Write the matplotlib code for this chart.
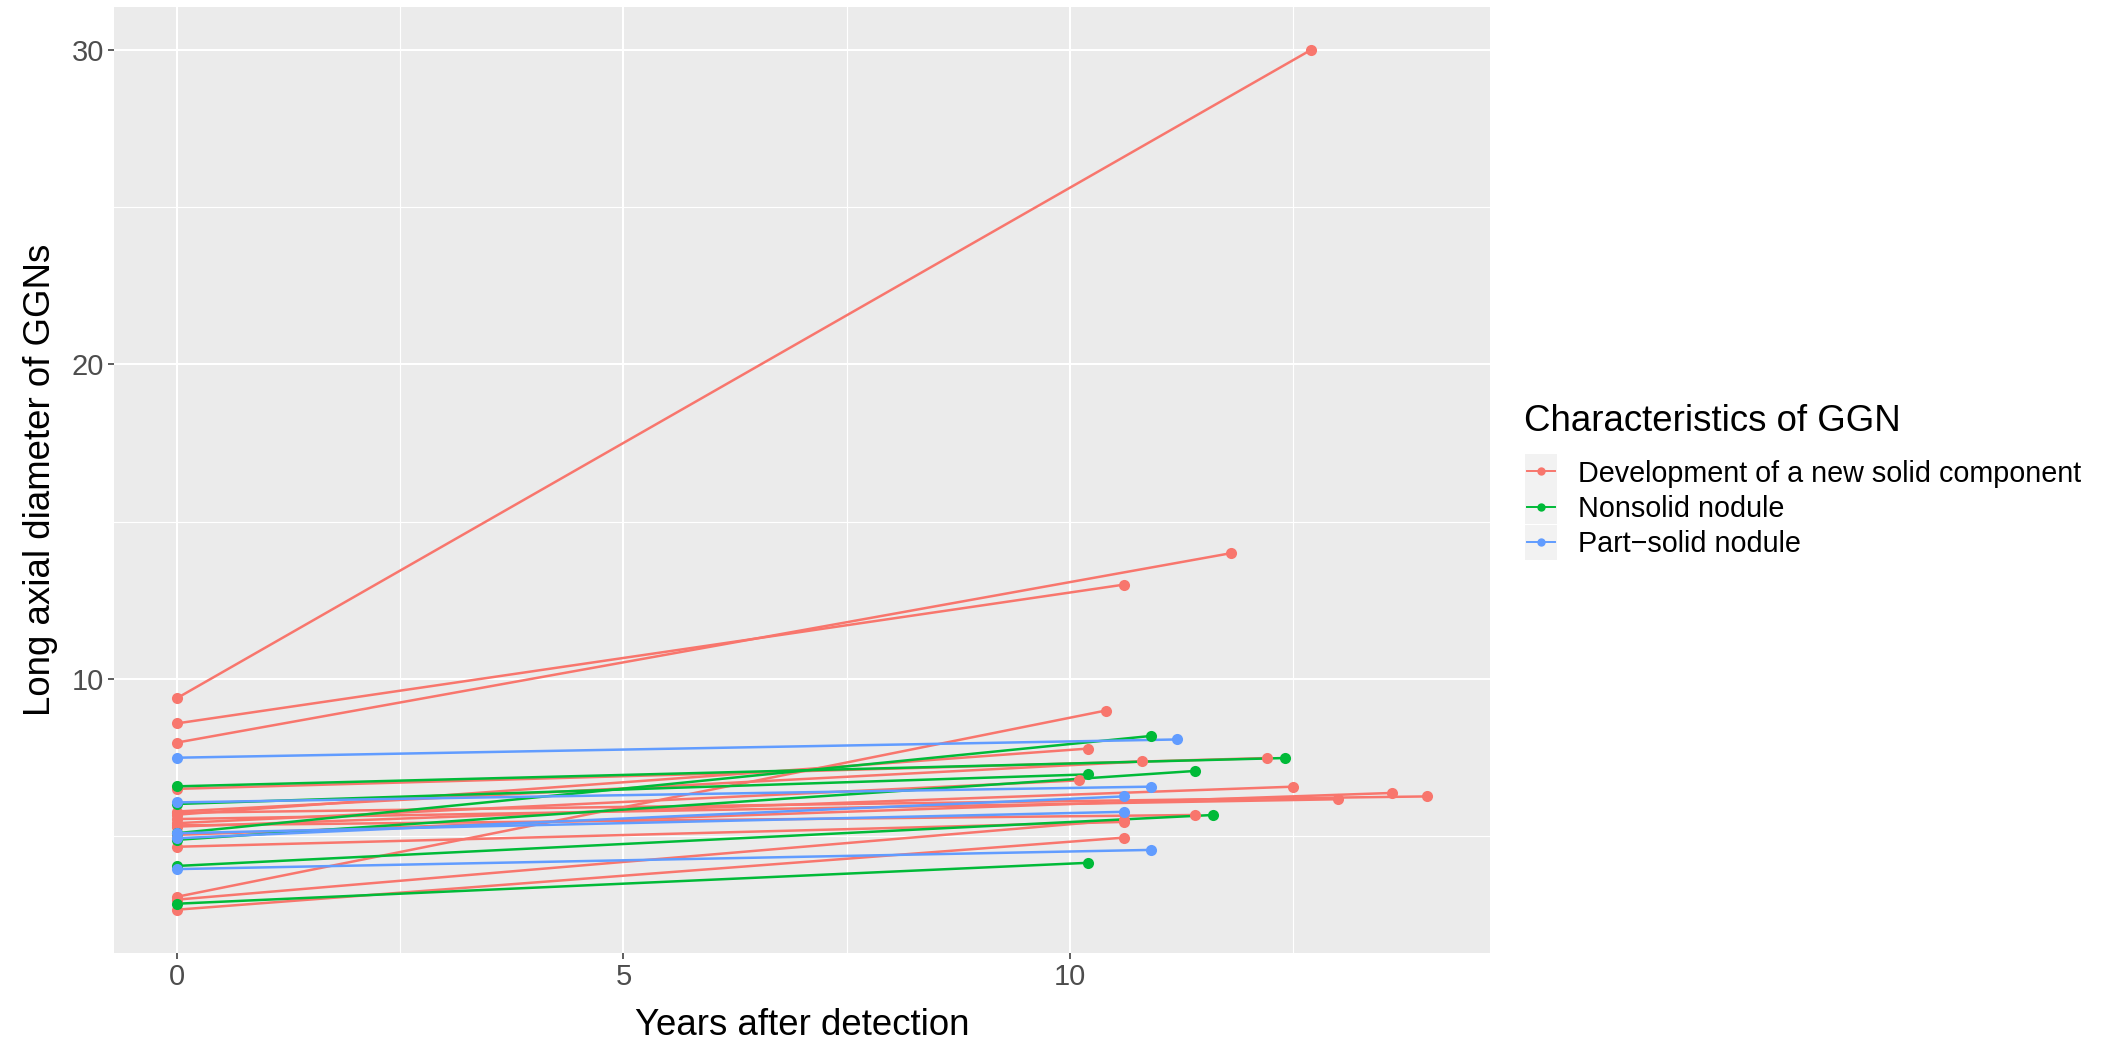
import matplotlib.pyplot as plt
from matplotlib.lines import Line2D
from matplotlib.patches import Rectangle

plt.rcParams['font.family'] = ['Liberation Sans', 'DejaVu Sans']

groups = ["Development of a new solid component", "Nonsolid nodule", "Part\u2212solid nodule"]
colors = ["#F8766D", "#00BA38", "#619CFF"]

# diameter at detection (year 0), years of follow-up, diameter at last scan
dev_start = [9.39, 8.59, 7.98, 6.51, 5.79, 5.75, 5.69, 5.55, 5.42, 5.35, 5.31, 5.05, 4.67, 3.08, 2.99, 2.67]
dev_years = [12.7, 10.6, 11.8, 12.2, 10.8, 14.0, 10.2, 13.0, 10.1, 11.4, 12.5, 13.6, 10.6, 10.4, 10.6, 10.6]
dev_end = [30.0, 13.0, 14.0, 7.49, 7.38, 6.27, 7.79, 6.18, 6.78, 5.68, 6.58, 6.38, 5.46, 9.0, 5.53, 4.96]

non_start = [6.59, 6.03, 5.10, 4.89, 4.06, 2.86]
non_years = [12.4, 10.2, 10.9, 11.4, 11.6, 10.2]
non_end = [7.49, 6.97, 8.19, 7.08, 5.68, 4.16]

part_start = [7.50, 6.08, 4.94, 5.10, 3.96]
part_years = [11.2, 10.9, 10.6, 10.6, 10.9]
part_end = [8.08, 6.58, 6.27, 5.78, 4.57]

data = [(dev_start, dev_years, dev_end),
        (non_start, non_years, non_end),
        (part_start, part_years, part_end)]

W, H = 2108, 1041
fig = plt.figure(figsize=(W / 100, H / 100), dpi=100)
ax = fig.add_axes([114.3 / W, 1 - 952.7 / H, (1490 - 114.3) / W, (952.7 - 6.7) / H])
ax.set_facecolor("#EBEBEB")
for s in ax.spines.values():
    s.set_visible(False)

# lines first, points on top (geom_line + geom_point)
for (st, yrs, en), c in zip(data, colors):
    for a, t, b in zip(st, yrs, en):
        ax.plot([0, t], [a, b], color=c, lw=1.8, solid_capstyle="butt", zorder=2)
for (st, yrs, en), c in zip(data, colors):
    ax.plot([0] * len(st), st, "o", color=c, ms=8, mew=0, zorder=3)
    ax.plot(yrs, en, "o", color=c, ms=8, mew=0, zorder=3)

ax.margins(0.05)
ax.set_xticks([0, 5, 10])
ax.set_xticks([2.5, 7.5, 12.5], minor=True)
ax.set_yticks([10, 20, 30])
ax.set_yticks([5, 15, 25], minor=True)
ax.set_axisbelow(True)
ax.grid(which="major", color="white", lw=1.5)
ax.grid(which="minor", color="white", lw=0.8)
ax.tick_params(which="major", length=4.3, width=1.1, color="#333333",
               labelsize=21, labelcolor="#4D4D4D", pad=3.2)
ax.tick_params(which="minor", length=0)

ax.set_xlabel("Years after detection", fontsize=26.4, labelpad=12)
ax.set_ylabel("Long axial diameter of GGNs", fontsize=26.4, labelpad=10)

# legend drawn by hand to mimic ggplot's guide
def fx(px):
    return px / W

def fy(py):
    return 1 - py / H

fig.text(fx(1524), fy(431), "Characteristics of GGN", fontsize=26.4, va="baseline", ha="left")
for i, (g, c) in enumerate(zip(groups, colors)):
    cy = 471 + 35.5 * i
    fig.add_artist(Rectangle((fx(1525), fy(cy + 17.5)), fx(32.3), 35 / H,
                             transform=fig.transFigure, facecolor="#F2F2F2", edgecolor="none"))
    fig.add_artist(Line2D([fx(1527), fx(1555)], [fy(cy), fy(cy)], transform=fig.transFigure,
                          color=c, lw=1.4))
    fig.add_artist(Line2D([fx(1541)], [fy(cy)], transform=fig.transFigure, marker="o",
                          color=c, ms=6, mew=0))
    fig.text(fx(1578), fy(cy + 10.5), g, fontsize=20.7, va="baseline", ha="left")

fig.savefig("out.png", dpi=100)
